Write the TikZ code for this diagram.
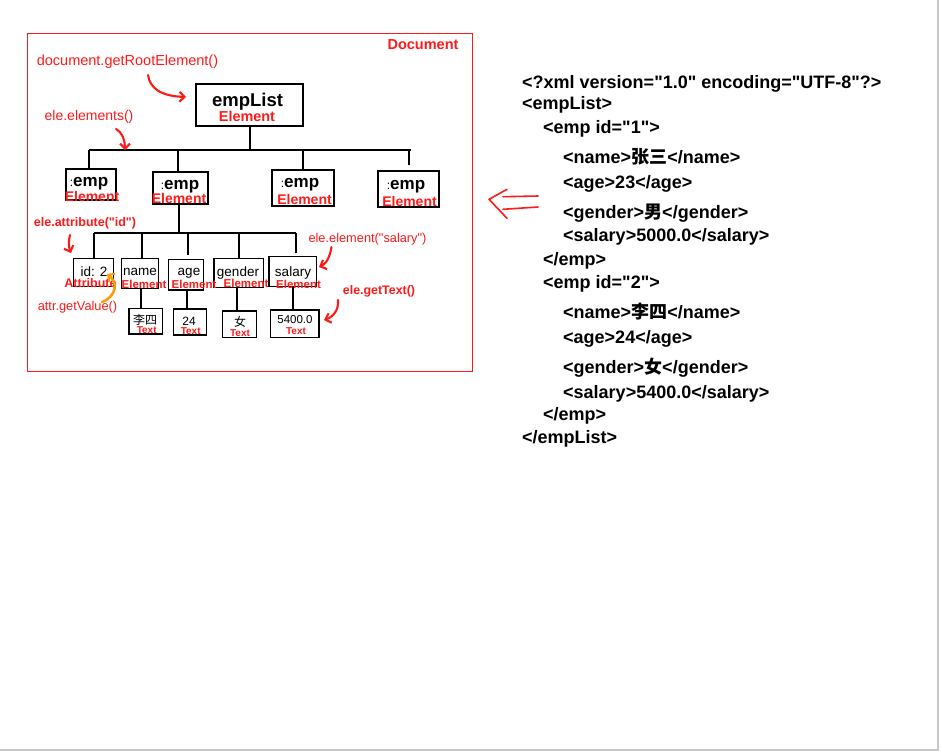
\documentclass[tikz,border=0pt]{standalone}
\usepackage{fontspec}
\setmainfont{Liberation Sans}[Ligatures=TeXOff]
\newfontfamily\cjk{Noto Sans CJK SC}
\usetikzlibrary{arrows.meta}
\definecolor{annred}{HTML}{FF1A1A}
\definecolor{annorange}{HTML}{FF9A00}
\newcommand\setfs[1]{\fontsize{#1}{#1}\selectfont}

\tikzset{
  box/.style={draw=black, line width=1.3pt, inner sep=0pt},
  tree/.style={draw=black, line width=2pt},
  lbl/.style={inner sep=0pt},
  kind/.style={inner sep=0pt, text=annred, font=\bfseries\setfs{#1}},
  note/.style={inner sep=0pt, text=annred, font=\setfs{#1}},
  bnote/.style={inner sep=0pt, text=annred, font=\bfseries\setfs{#1}},
  ann/.style={draw=annred, line width=2.1pt, line cap=round,
    -{Straight Barb[length=5pt,width=10pt,line width=2.1pt]}},
  xml/.style={inner sep=0pt, anchor=base west, font=\bfseries\setfs{18}},
}

\begin{document}
\begin{tikzpicture}[x=1pt,y=-1pt]
\useasboundingbox (0,0) rectangle (942,753);
\fill[white] (0,0) rectangle (942,753);
% page edge
\draw[black!22, line width=1.4pt] (938,0) -- (938,750) -- (0,750);

% ---------- document frame ----------
\node[draw=annred, line width=1.3pt, inner sep=0pt, minimum width=445,
      minimum height=338, anchor=north west] (doc) at (26.7,32.7) {};
\node[kind=14.5] (doclbl) at (423,45) {Document};

% ---------- root element ----------
\node[box, minimum width=107, minimum height=42] (root) at (249.5,105) {};
\node[lbl, font=\bfseries\setfs{18.5}] (rootname) at (247.5,102) {empList};
\node[kind=14.4] (rootkind) at (247,116.5) {Element};

% ---------- emp elements ----------
\node[box, minimum width=50, minimum height=31] (e1) at (91,184.5) {};
\node[box, minimum width=55, minimum height=32] (e2) at (180.5,188) {};
\node[box, minimum width=62, minimum height=36] (e3) at (303,188) {};
\node[box, minimum width=61, minimum height=36] (e4) at (408.5,189) {};
\node[lbl, font=\bfseries\setfs{17}] (e1name) at (89,184) {{\mdseries\setfs{12}:}emp};
\node[lbl, font=\bfseries\setfs{17}] (e2name) at (180,187) {{\mdseries\setfs{12}:}emp};
\node[lbl, font=\bfseries\setfs{17}] (e3name) at (300,185) {{\mdseries\setfs{12}:}emp};
\node[lbl, font=\bfseries\setfs{17}] (e4name) at (406,186.7) {{\mdseries\setfs{12}:}emp};
\node[kind=14] (e1kind) at (92,196.5) {Element};
\node[kind=14] (e2kind) at (179,198) {Element};
\node[kind=14] (e3kind) at (304.5,199.5) {Element};
\node[kind=14] (e4kind) at (409.5,201.3) {Element};

% ---------- children of the second emp ----------
\node[box, minimum width=40, minimum height=28] (k1) at (93.3,272.5) {};
\node[box, minimum width=36.7, minimum height=30] (k2) at (140,273.3) {};
\node[box, minimum width=35, minimum height=30.7] (k3) at (185.8,274.7) {};
\node[box, minimum width=49.3, minimum height=29.3] (k4) at (238.7,273) {};
\node[box, minimum width=47.7, minimum height=30] (k5) at (292.8,271.7) {};
\node[lbl, font=\setfs{13.5}] (k1name) at (94,271.5) {id: 2};
\node[lbl, font=\setfs{13.5}] (k2name) at (140,272) {name};
\node[lbl, font=\setfs{13.5}] (k3name) at (189,273.5) {age};
\node[lbl, font=\setfs{13.5}] (k4name) at (238,273) {gender};
\node[lbl, font=\setfs{13.5}] (k5name) at (293,273) {salary};
\node[kind=12.5] (k1kind) at (90.5,283) {Attribute};
\node[kind=11.5] (k2kind) at (144,284.5) {Element};
\node[kind=11.5] (k3kind) at (194,284.5) {Element};
\node[kind=11.5] (k4kind) at (246,283) {Element};
\node[kind=11.5] (k5kind) at (298.5,284) {Element};

% ---------- text nodes ----------
\node[box, minimum width=33.3, minimum height=25.7] (t1) at (145.7,321.2) {};
\node[box, minimum width=33.3, minimum height=26] (t2) at (190,322) {};
\node[box, minimum width=34, minimum height=26.3] (t3) at (239.7,324.2) {};
\node[box, minimum width=48.3, minimum height=27.3] (t4) at (294.8,323.7) {};
\node[lbl, font=\cjk\setfs{12}] (t1val) at (145,320) {李四};
\node[lbl, font=\setfs{12}] (t2val) at (189,321) {24};
\node[lbl, font=\cjk\setfs{12}] (t3val) at (240,322) {女};
\node[lbl, font=\setfs{11.5}] (t4val) at (295,320) {5400.0};
\node[kind=10] (t1kind) at (146.7,330) {Text};
\node[kind=10] (t2kind) at (190.7,330.8) {Text};
\node[kind=10] (t3kind) at (240,332.8) {Text};
\node[kind=10] (t4kind) at (296,331.5) {Text};

% ---------- tree lines ----------
\coordinate (busL) at (89,150);
\coordinate (busR) at (411,150);
\coordinate (bus2) at (0,233);
\draw[tree] (root.south) -- (root.south |- busL);
\draw[tree] (busL) -- (busR);
\draw[tree] ([xshift=-2pt]e1.north) -- ([xshift=-2pt]e1.north |- busL);
\draw[tree] ([xshift=-2.5pt]e2.north) -- ([xshift=-2.5pt]e2.north |- busL);
\draw[tree] (e3.north) -- (e3.north |- busL);
\draw[tree] ([yshift=5pt]e4.north) -- (e4.north |- busL);

\draw[tree] ([xshift=-1.5pt]e2.south) -- ([xshift=-1.5pt]e2.south |- bus2);
\draw[tree] ([xshift=0.7pt]k1.north |- bus2) -- ([xshift=3pt]k5.north |- bus2);
\draw[tree] ([xshift=0.7pt]k1.north) -- ([xshift=0.7pt]k1.north |- bus2);
\draw[tree] ([xshift=2pt]k2.north) -- ([xshift=2pt]k2.north |- bus2);
\draw[tree] ([xshift=2pt,yshift=4pt]k3.north) -- ([xshift=2pt]k3.north |- bus2);
\draw[tree] (k4.north) -- (k4.north |- bus2);
\draw[tree] ([xshift=3pt,yshift=3pt]k5.north) -- ([xshift=3pt]k5.north |- bus2);

\draw[tree] ([xshift=1pt]k2.south) -- ([xshift=1pt]k2.south |- t1.north);
\draw[tree] ([xshift=1.5pt]k3.south) -- ([xshift=1.5pt]k3.south |- t2.north);
\draw[tree] ([xshift=-1.5pt]k4.south) -- ([xshift=-1.5pt]k4.south |- t3.north);
\draw[tree] (k5.south) -- (k5.south |- t4.north);

% ---------- method annotations ----------
\node[note=14.5] (getroot) at (127.5,62) {document.getRootElement()};
\node[note=14] (elements) at (89,117) {ele.elements()};
\node[bnote=12.5] (attrib) at (85,223) {ele.attribute("id")};
\node[note=12.8] (element) at (367.5,239) {ele.element("salary")};
\node[bnote=12.4] (gettext) at (379,291) {ele.getText()};
\node[note=12.8] (getvalue) at (77.5,307.5) {attr.getValue()};

\coordinate (a1s) at (148,75);   \coordinate (a1e) at (186,97);
\coordinate (a2s) at (116,129);  \coordinate (a2e) at (125,150);
\coordinate (a3s) at (70,235);   \coordinate (a3e) at (71,253);
\coordinate (a4s) at (331.5,247);  \coordinate (a4e) at (319,267);
\coordinate (a5s) at (338,300);  \coordinate (a5e) at (324,320);
\coordinate (a6s) at (102,302);  \coordinate (a6e) at (107,274);

\draw[ann] (a1s) .. controls (150,88) and (160,96) .. (a1e);
\draw[ann] (a2s) .. controls (122,132) and (125,140) .. (a2e);
\draw[ann] (a3s) .. controls (68,242) and (69,248) .. (a3e);
\draw[ann] (a4s) .. controls (330,257) and (326,264) .. (a4e);
\draw[ann] (a5s) .. controls (339,310) and (333,317) .. (a5e);
\draw[ann, draw=annorange, line width=2.5pt] (a6s) .. controls (117,296) and (118,282) .. (a6e);

% ---------- arrow from the XML source ----------
\draw[draw=annred, line width=1.6pt, line cap=round, line join=round]
  (507,189.3) -- (489,199.3) -- (507,218.3);
\draw[draw=annred, line width=1.6pt, line cap=round] (503,196.7) -- (538,196);
\draw[draw=annred, line width=1.6pt, line cap=round] (503,209.3) -- (538,207);

% ---------- XML source ----------
\node[xml] (x1)  at (522,88)  {<?xml version="1.0" encoding="UTF-8"?>};
\node[xml] (x2)  at (522,109) {<empList>};
\node[xml] (x3)  at (543,133) {<emp id="1">};
\node[xml] (x4)  at (563,163) {<name>{\cjk 张三}</name>};
\node[xml] (x5)  at (563,188) {<age>23</age>};
\node[xml] (x6)  at (563,218) {<gender>{\cjk 男}</gender>};
\node[xml] (x7)  at (563,241) {<salary>5000.0</salary>};
\node[xml] (x8)  at (543,265) {</emp>};
\node[xml] (x9)  at (543,288) {<emp id="2">};
\node[xml] (x10) at (563,318) {<name>{\cjk 李四}</name>};
\node[xml] (x11) at (563,343) {<age>24</age>};
\node[xml] (x12) at (563,373) {<gender>{\cjk 女}</gender>};
\node[xml] (x13) at (563,398) {<salary>5400.0</salary>};
\node[xml] (x14) at (543,420) {</emp>};
\node[xml] (x15) at (522,443) {</empList>};
\end{tikzpicture}
\end{document}
